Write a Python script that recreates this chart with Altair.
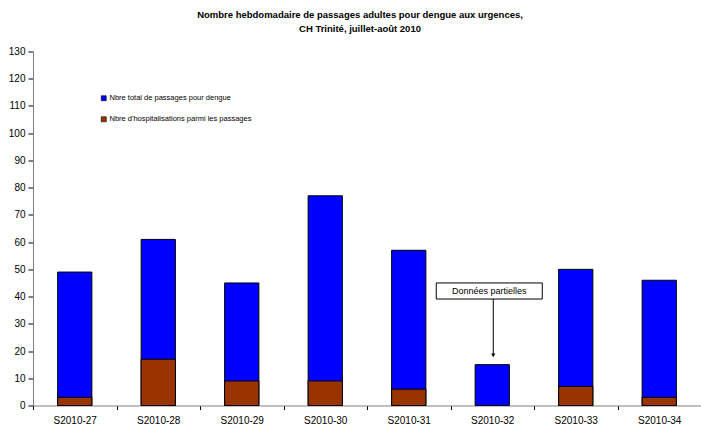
import altair as alt
import pandas as pd

# Weekly adult emergency visits for dengue, CH Trinité, July-August 2010
weeks = ["S2010-27", "S2010-28", "S2010-29", "S2010-30",
         "S2010-31", "S2010-32", "S2010-33", "S2010-34"]
total_visits = [49, 61, 45, 77, 57, 15, 50, 46]
hospitalisations = [3, 17, 9, 9, 6, 0, 7, 3]

series_names = ["Nbre total de passages pour dengue",
                "Nbre d'hospitalisations parmi les passages"]
series_colors = ["#0000FF", "#993300"]

title_lines = ["Nombre hebdomadaire de passages adultes pour dengue aux urgences,",
               "CH Trinité, juillet-août 2010"]
y_ticks = list(range(0, 131, 10))

note_week = ["S2010-32"]
note_text = ["Données partielles"]

FONT = "Liberation Sans"

# Long table: one row per week and series, totals first so hospitalisations draw on top
long_rows = (
    [{"week": w, "series": series_names[0], "value": v} for w, v in zip(weeks, total_visits)]
    + [{"week": w, "series": series_names[1], "value": v} for w, v in zip(weeks, hospitalisations)]
)
df = pd.DataFrame(long_rows)
notes = pd.DataFrame({"week": note_week, "label": note_text})

x_enc = alt.X(
    "week:N",
    sort=weeks,
    scale=alt.Scale(paddingInner=0, paddingOuter=0),
    axis=alt.Axis(title=None, labelAngle=0, tickBand="extent", tickSize=4,
                  labelPadding=6, labelFontSize=10, grid=False),
)
y_scale = alt.Scale(domain=[0, 130], nice=False)
y_axis = alt.Axis(title=None, values=y_ticks, tickSize=5, labelPadding=3,
                  labelFontSize=10, grid=False)
color_enc = alt.Color(
    "series:N",
    sort=series_names,
    scale=alt.Scale(domain=series_names, range=series_colors),
    legend=alt.Legend(
        title=None, orient="none", legendX=67, legendY=43,
        symbolType="square", symbolSize=25, symbolStrokeColor="black",
        symbolStrokeWidth=0.6, labelFont=FONT, labelFontSize=7.5,
        labelOffset=2, rowPadding=12, padding=0,
    ),
)

def series_bars(name):
    return alt.Chart(df).transform_filter(
        (alt.datum.series == name) & (alt.datum.value > 0)
    ).mark_bar(width={"band": 0.41}, stroke="black", strokeWidth=1).encode(
        x=x_enc,
        y=alt.Y("value:Q", scale=y_scale, stack=None, axis=y_axis),
        color=color_enc,
    )

total_bars = series_bars(series_names[0])
hosp_bars = series_bars(series_names[1])

# "Données partielles" call-out with an arrow down to the incomplete week
note_box = alt.Chart(notes).mark_bar(
    width=106, fill="white", stroke="black", strokeWidth=1, xOffset=-3
).encode(
    x=alt.X("week:N", sort=weeks),
    y=alt.YDatum(45.0, axis=y_axis),
    y2=alt.Y2Datum(39.1),
)
note_label = alt.Chart(notes).mark_text(
    font=FONT, fontSize=9, color="black", xOffset=-3, baseline="middle"
).encode(
    x=alt.X("week:N", sort=weeks),
    y=alt.YDatum(42.0, axis=y_axis),
    text="label:N",
)
note_stem = alt.Chart(notes).mark_rule(color="black", strokeWidth=1, xOffset=1).encode(
    x=alt.X("week:N", sort=weeks),
    y=alt.YDatum(39.1, axis=y_axis),
    y2=alt.Y2Datum(19.0),
)
note_head = alt.Chart(notes).mark_point(
    shape="triangle-down", filled=True, size=18, color="black", opacity=1, xOffset=1
).encode(
    x=alt.X("week:N", sort=weeks),
    y=alt.YDatum(18.4, axis=y_axis),
)

chart = alt.layer(
    total_bars, hosp_bars, note_box, note_stem, note_head, note_label
).properties(
    width=668,
    height=354,
    background="white",
    title=alt.TitleParams(
        title_lines, font=FONT, fontSize=9.5, fontWeight="bold", color="black",
        anchor="middle", dx=-7, lineHeight=14, offset=13,
    ),
    autosize=alt.AutoSizeParams(type="none"),
    padding={"left": 33, "top": 51.5, "right": 0, "bottom": 20.5},
).configure_view(
    stroke=None
).configure_axis(
    grid=False, domainColor="#808080", domainWidth=1, tickColor="#000000",
    labelFont=FONT, labelColor="black",
)

chart.save("out.html", embed_options={"renderer": "svg", "actions": False})
